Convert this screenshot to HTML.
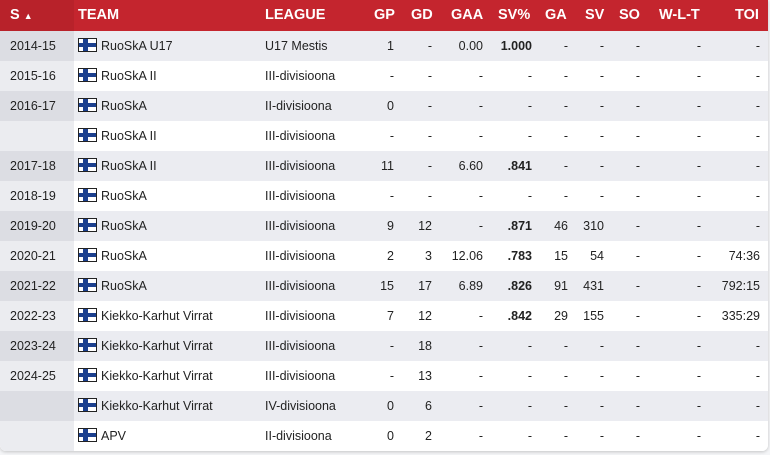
<!DOCTYPE html>
<html><head><meta charset="utf-8"><style>
body{margin:0;width:770px;height:455px;background:#f4f5f7;font-family:"Liberation Sans",sans-serif;overflow:hidden}
.t{position:absolute;left:0;top:0;width:768px;height:451px;border-radius:0 0 6px 6px;overflow:hidden;box-shadow:0 1px 3px rgba(0,0,0,.2);background:#fff}
.h{position:absolute;left:0;top:0;width:768px;height:31px;background:#c4252e;color:#fff;font-weight:bold;font-size:14.5px}
.h .c0{position:absolute;left:0;top:0;width:74px;height:31px;background:#b8222a}
.r{position:absolute;left:0;width:768px;height:30px;font-size:12.5px;color:#222}
.r.o{background:#ebecf1}.r.e{background:#fff}
.r .s{position:absolute;left:0;top:0;width:74px;height:30px}
.r.o .s{background:#dcdde3}.r.e .s{background:#ebecf0}
.x{position:absolute;top:0;line-height:30px;white-space:nowrap}
.h .x{line-height:31px}
.rt{text-align:right}
.f{position:absolute;left:78px;top:7px;width:19px;height:14px;background:#fff;border:1px solid #222;box-sizing:border-box}
.f:before{content:"";position:absolute;left:4px;top:0;width:5px;height:100%;background:#1b3f8e}
.f:after{content:"";position:absolute;left:0;top:4px;width:100%;height:4px;background:#1b3f8e}
b{font-weight:bold}
</style></head><body><div class="t">
<div class="h"><div class="c0"></div>
<span class="x" style="left:10px">S <span style="font-size:9px">▲</span></span>
<span class="x" style="left:78px">TEAM</span>
<span class="x" style="left:265px">LEAGUE</span>
<span class="x" style="left:374px">GP</span>
<span class="x" style="left:411px">GD</span>
<span class="x" style="left:451px">GAA</span>
<span class="x" style="left:498px">SV%</span>
<span class="x" style="left:545px">GA</span>
<span class="x" style="left:585px">SV</span>
<span class="x" style="left:619px">SO</span>
<span class="x" style="left:659px">W-L-T</span>
<span class="x" style="left:735px">TOI</span>
</div>
<div id="rows"></div>
</div>
<script>
var d=[
["2014-15","RuoSkA U17","U17 Mestis","1","-","0.00","1.000","-","-","-","-","-"],
["2015-16","RuoSkA II","III-divisioona","-","-","-","-","-","-","-","-","-"],
["2016-17","RuoSkA","II-divisioona","0","-","-","-","-","-","-","-","-"],
["","RuoSkA II","III-divisioona","-","-","-","-","-","-","-","-","-"],
["2017-18","RuoSkA II","III-divisioona","11","-","6.60",".841","-","-","-","-","-"],
["2018-19","RuoSkA","III-divisioona","-","-","-","-","-","-","-","-","-"],
["2019-20","RuoSkA","III-divisioona","9","12","-",".871","46","310","-","-","-"],
["2020-21","RuoSkA","III-divisioona","2","3","12.06",".783","15","54","-","-","74:36"],
["2021-22","RuoSkA","III-divisioona","15","17","6.89",".826","91","431","-","-","792:15"],
["2022-23","Kiekko-Karhut Virrat","III-divisioona","7","12","-",".842","29","155","-","-","335:29"],
["2023-24","Kiekko-Karhut Virrat","III-divisioona","-","18","-","-","-","-","-","-","-"],
["2024-25","Kiekko-Karhut Virrat","III-divisioona","-","13","-","-","-","-","-","-","-"],
["","Kiekko-Karhut Virrat","IV-divisioona","0","6","-","-","-","-","-","-","-"],
["","APV","II-divisioona","0","2","-","-","-","-","-","-","-"]];
var R=[394,432,483,532,568,604,640,701,760],h="";
d.forEach(function(r,i){
h+='<div class="r '+(i%2?'e':'o')+'" style="top:'+(31+i*30)+'px"><div class="s"></div>';
h+='<span class="x" style="left:10px">'+r[0]+'</span><div class="f"></div>';
h+='<span class="x" style="left:101px">'+r[1]+'</span><span class="x" style="left:265px">'+r[2]+'</span>';
for(var k=0;k<9;k++){var v=r[3+k];if(k==3&&v!="-")v="<b>"+v+"</b>";
h+='<span class="x rt" style="right:'+(768-R[k])+'px">'+v+'</span>';}
h+='</div>';});
document.getElementById("rows").innerHTML=h;
</script>
</body></html>
